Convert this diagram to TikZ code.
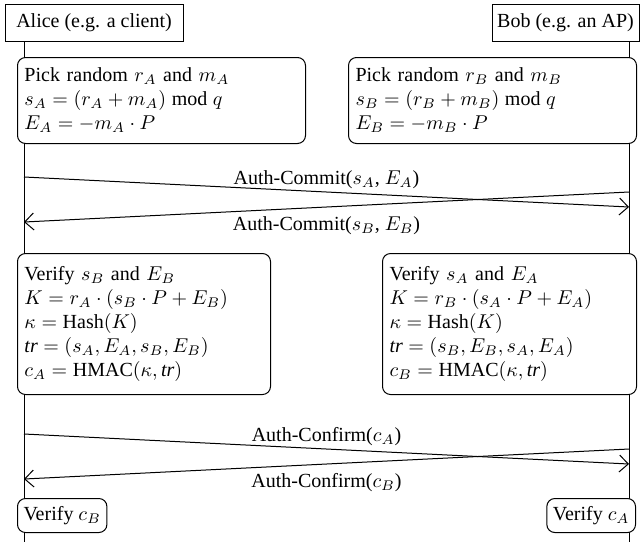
\documentclass[tikz,border=0pt]{standalone}
\usepackage{fontspec}
\setmainfont{Liberation Serif}
\usetikzlibrary{arrows.meta}
\tikzset{
	party/.style={draw, line width=0.5pt, minimum height=18.5pt, inner sep=0pt, fill=white},
	stepbox/.style={draw, line width=0.5pt, rounded corners=4pt, fill=white, align=left, inner sep=3.5pt},
	lifeline/.style={line width=0.5pt},
	msg/.style={line width=0.5pt, -{Straight Barb[length=4.5pt,width=8.5pt]}},
	msglabel/.style={inner sep=1pt}
}

\begin{document}
\begin{tikzpicture}[x=0.5pt, y=-0.5pt]
			%%%%% START %%%%%
			\useasboundingbox (0, 0) rectangle (640, 542);
			
			\node[party, minimum width=89pt] (alice) at (94, 22.5) {Alice (e.g. a client)};
			\node[party, minimum width=73.5pt] (bob) at (565.5, 22.5) {Bob (e.g. an AP)};
			
			\coordinate (aliceEnd) at (24, 542);
			\coordinate (bobEnd) at (629, 542);
			\draw[lifeline] (alice.south -| aliceEnd) -- (aliceEnd);
			\draw[lifeline] (bob.south -| bobEnd) -- (bobEnd);
			
			\node[stepbox, anchor=north west, text width=137pt, minimum height=43pt] (aliceInit) at (17, 57)
				{Pick random $r_A$ and $m_A$\\ $s_A = (r_A + m_A) \bmod q$\\ $E_A = -m_A \cdot P$};
			\node[stepbox, anchor=north west, text width=137pt, minimum height=43pt] (bobInit) at (348, 57)
				{Pick random $r_B$ and $m_B$\\ $s_B = (r_B + m_B) \bmod q$\\ $E_B = -m_B \cdot P$};
			
			\coordinate (a1) at (24, 177);
			\coordinate (b1) at (629, 207);
			\coordinate (b2) at (629, 192);
			\coordinate (a2) at (24, 222);
			\draw[msg] (a1) -- node[msglabel, above=0.5pt] {Auth-Commit($s_A$, $E_A$)} (b1);
			\draw[msg] (b2) -- node[msglabel, below=3.5pt] {Auth-Commit($s_B$, $E_B$)} (a2);
			
			\node[stepbox, anchor=north west, text width=119.5pt, minimum height=70.5pt] (aliceKey) at (17, 253)
				{Verify $s_B$ and $E_B$\\ $K = r_A \cdot (s_B \cdot P + E_B)$\\ $\kappa = \mathrm{Hash}(K)$\\
				 $\mathit{tr} = (s_A, E_A, s_B, E_B)$\\ $c_A = \mathrm{HMAC}(\kappa, \mathit{tr})$};
			\node[stepbox, anchor=north west, text width=120pt, minimum height=70.5pt] (bobKey) at (382, 253)
				{Verify $s_A$ and $E_A$\\ $K = r_B \cdot (s_A \cdot P + E_A)$\\ $\kappa = \mathrm{Hash}(K)$\\
				 $\mathit{tr} = (s_B, E_B, s_A, E_A)$\\ $c_B = \mathrm{HMAC}(\kappa, \mathit{tr})$};
			
			\coordinate (a3) at (24, 434);
			\coordinate (b3) at (629, 464);
			\coordinate (b4) at (629, 449);
			\coordinate (a4) at (24, 479);
			\draw[msg] (a3) -- node[msglabel, above=0.5pt] {Auth-Confirm($c_A$)} (b3);
			\draw[msg] (b4) -- node[msglabel, below=3.5pt] {Auth-Confirm($c_B$)} (a4);
			
			\node[stepbox, anchor=north west, minimum height=17pt, inner sep=3pt] (aliceDone) at (17, 498) {Verify $c_B$};
			\node[stepbox, anchor=north east, minimum height=17pt, inner sep=3pt] (bobDone) at (636, 498) {Verify $c_A$};
			
			%%%%% END %%%%%
\end{tikzpicture}
\end{document}
